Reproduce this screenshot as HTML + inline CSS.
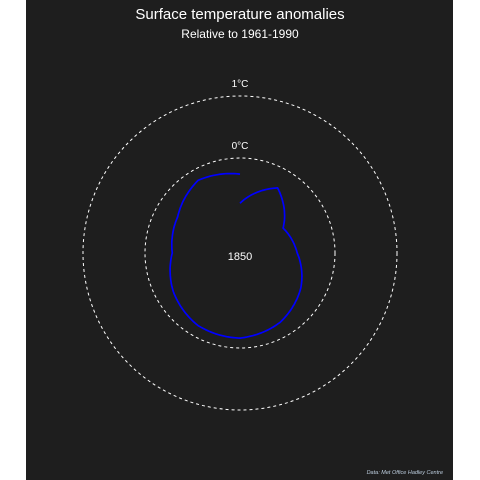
<!DOCTYPE html>
<html><head><meta charset="utf-8"><style>
html,body{margin:0;padding:0;background:#fff;width:480px;height:480px;overflow:hidden}
svg{display:block}
</style></head><body>
<svg width="480" height="480" xmlns="http://www.w3.org/2000/svg" font-family="Liberation Sans, sans-serif">
<rect x="26" y="0" width="427" height="480" fill="#1e1e1e"/>
<text x="240" y="19" text-anchor="middle" fill="#fff" font-size="15">Surface temperature anomalies</text>
<text x="240" y="38" text-anchor="middle" fill="#fff" font-size="12">Relative to 1961-1990</text>
<g id="rings"></g>
<path id="series" fill="none" stroke="#0000ff" stroke-width="1.7" stroke-linejoin="round"/>
<text x="240" y="260" text-anchor="middle" fill="#fff" font-size="11">1850</text>
<text x="443" y="474" text-anchor="end" fill="#bcd" font-size="5.5" font-style="italic">Data: Met Office Hadley Centre</text>
</svg>
<script>
const months = ["Jan","Feb","Mar","Apr","May","Jun","Jul","Aug","Sep","Oct","Nov","Dec","Jan"];
const anomalies = [-0.73,-0.32,-0.73,-0.61,-0.40,-0.24,-0.16,-0.18,-0.29,-0.44,-0.37,-0.18,-0.26];
const ringValues = [0, 1];
const ringLabels = ["0°C", "1°C"];
const cx = 240, cy = 253;
function rScale(t){ return 95 + 62 * t; }
function angleOf(i){ return i / 12 * 2 * Math.PI; }
const ns = "http://www.w3.org/2000/svg";
const rings = document.getElementById('rings');
ringValues.forEach((v, i) => {
  const c = document.createElementNS(ns, 'circle');
  c.setAttribute('cx', cx); c.setAttribute('cy', cy); c.setAttribute('r', rScale(v));
  c.setAttribute('fill', 'none'); c.setAttribute('stroke', '#fff');
  c.setAttribute('stroke-width', '1'); c.setAttribute('stroke-dasharray', '3,3');
  
  
  rings.appendChild(c);
  const t = document.createElementNS(ns, 'text');
  t.setAttribute('x', cx); t.setAttribute('y', cy - rScale(v) - 9);
  t.setAttribute('text-anchor', 'middle'); t.setAttribute('fill', '#fff');
  t.setAttribute('font-size', '10');
  t.textContent = ringLabels[i];
  
  
  rings.appendChild(t);
});
let d = "";
const steps = 20;
for (let i = 0; i < anomalies.length - 1; i++) {
  for (let s = 0; s <= steps; s++) {
    if (i > 0 && s === 0) continue;
    const f = s / steps;
    const r = rScale(anomalies[i] + (anomalies[i+1] - anomalies[i]) * f);
    const a = angleOf(i + f);
    const x = cx + r * Math.sin(a), y = cy - r * Math.cos(a);
    d += (d ? "L" : "M") + x.toFixed(1) + "," + y.toFixed(1);
  }
}
document.getElementById('series').setAttribute('d', d);
</script>
</body></html>
